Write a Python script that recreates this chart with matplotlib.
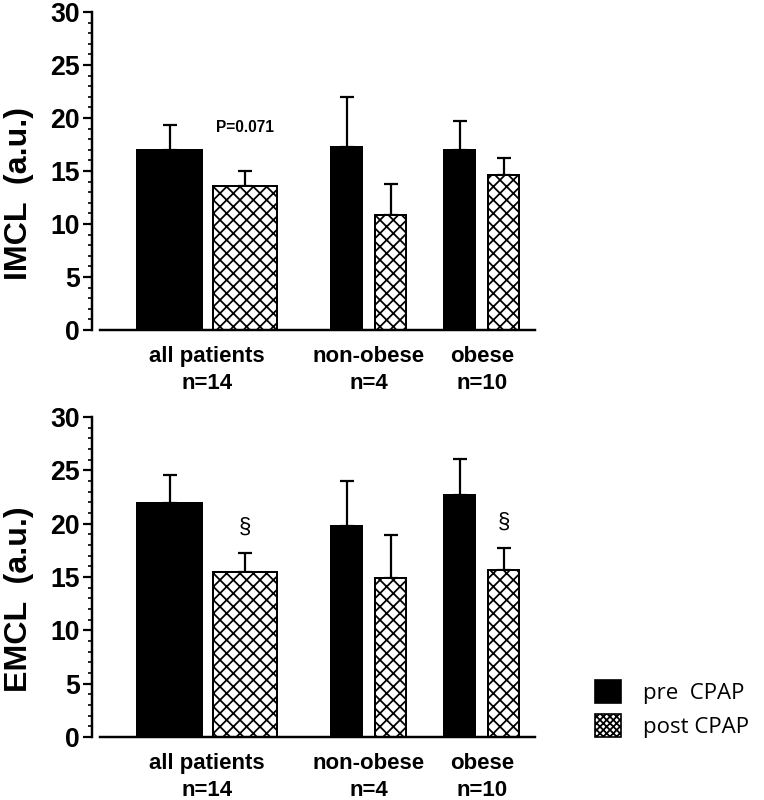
import numpy as np
import matplotlib
matplotlib.use("Agg")
import matplotlib.pyplot as plt
from matplotlib.patches import Patch

plt.rcParams['font.family'] = ['Liberation Sans', 'DejaVu Sans']
plt.rcParams['hatch.linewidth'] = 1.6

# data
groups = ["all patients\nn=14", "non-obese\nn=4", "obese\nn=10"]
imcl_pre = [17.0, 17.3, 17.0]
imcl_pre_err = [2.3, 4.7, 2.7]
imcl_post = [13.6, 10.85, 14.6]
imcl_post_err = [1.4, 2.95, 1.6]
emcl_pre = [21.9, 19.8, 22.7]
emcl_pre_err = [2.7, 4.2, 3.4]
emcl_post = [15.5, 14.9, 15.65]
emcl_post_err = [1.7, 4.0, 2.05]
series_labels = ["pre  CPAP", "post CPAP"]

# layout
centers = np.array([2.6, 6.25, 8.8])
offsets = np.array([0.85, 0.5, 0.5])
widths = np.array([1.45, 0.7, 0.7])


def panel(ax, pre, pre_err, post, post_err, ylabel):
    ax.bar(centers - offsets, pre, width=widths, color="black",
           edgecolor="black", linewidth=1.8, zorder=2)
    ax.bar(centers + offsets, post, width=widths, color="white",
           edgecolor="black", hatch="xx", linewidth=1.8, zorder=2)
    ax.errorbar(centers - offsets, pre, yerr=[np.zeros(3), pre_err], fmt="none",
                ecolor="black", elinewidth=2.0, capsize=6, capthick=2.0, zorder=1)
    ax.errorbar(centers + offsets, post, yerr=[np.zeros(3), post_err], fmt="none",
                ecolor="black", elinewidth=2.0, capsize=6, capthick=2.0, zorder=1)
    ax.set_xlim(0, 10)
    ax.set_ylim(0, 30)
    ax.set_yticks(np.arange(0, 31, 5))
    ax.set_yticks(np.arange(0, 31, 1), minor=True)
    ax.set_xticks(centers)
    ax.set_xticklabels(groups, fontsize=20, fontweight="bold", linespacing=1.38)
    ax.tick_params(axis="x", length=0, pad=14)
    ax.tick_params(axis="y", which="major", length=8, width=2.0, labelsize=24, pad=3)
    ax.tick_params(axis="y", which="minor", length=4, width=1.5)
    for lab in ax.get_yticklabels():
        lab.set_fontweight("bold")
    for s in ["top", "right"]:
        ax.spines[s].set_visible(False)
    ax.spines["left"].set_linewidth(2.2)
    ax.spines["bottom"].set_linewidth(2.2)
    ax.spines["bottom"].set_bounds(0.18, 10)
    ax.set_ylabel(ylabel, fontsize=29, fontweight="bold")
    ax.yaxis.set_label_coords(-0.13, 0.43)


fig = plt.figure(figsize=(9.55, 10), dpi=80)
ax1 = fig.add_axes([0.1204, 0.5875, 0.5798, 0.3975])
ax2 = fig.add_axes([0.1204, 0.0788, 0.5798, 0.4])

panel(ax1, imcl_pre, imcl_pre_err, imcl_post, imcl_post_err, "IMCL  (a.u.)")
panel(ax2, emcl_pre, emcl_pre_err, emcl_post, emcl_post_err, "EMCL  (a.u.)")

ax1.text(centers[0] + offsets[0], 19.15, "P=0.071", ha="center", va="center",
         fontsize=14, fontweight="bold")
ax2.text(centers[0] + offsets[0], 19.7, "§", ha="center", va="center", fontsize=20)
ax2.text(centers[2] + offsets[2], 20.1, "§", ha="center", va="center", fontsize=20)

handles = [Patch(facecolor="black", edgecolor="black", linewidth=1.5),
           Patch(facecolor="white", edgecolor="black", hatch="xxxx", linewidth=1.5)]
fig.legend(handles, series_labels, loc="upper left", bbox_to_anchor=(0.753, 0.175),
           frameon=False, prop={"family": "Open Sans", "size": 20},
           handlelength=1.15, handleheight=1.2, handletextpad=1.0, labelspacing=0.45)

fig.savefig("out.png", dpi=80)
